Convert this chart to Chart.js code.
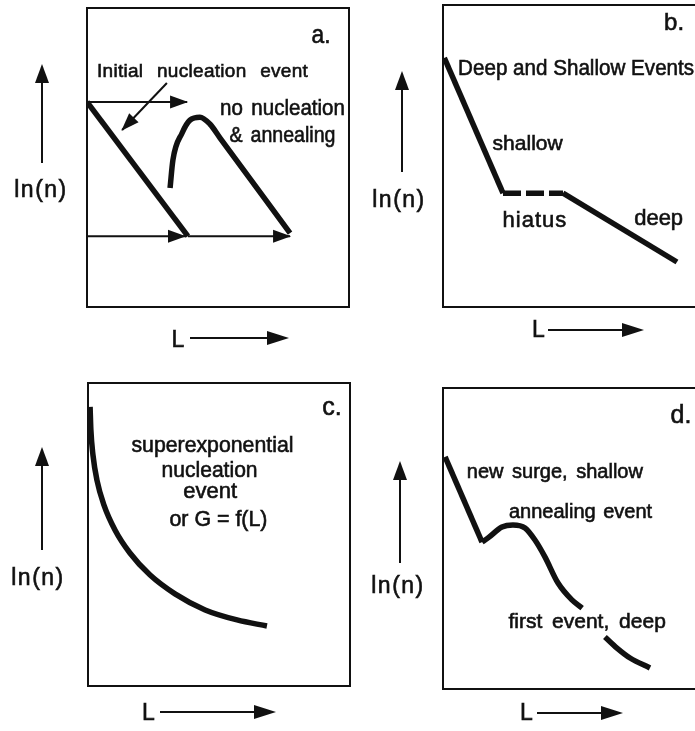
<!DOCTYPE html>
<html>
<head>
<meta charset="utf-8">
<title>CSD sketches</title>
<script src="https://cdn.jsdelivr.net/npm/chart.js@4.4.1/dist/chart.umd.min.js"></script>
<style>
  html, body { margin: 0; padding: 0; background: #fff; }
  body { width: 695px; height: 731px; overflow: hidden; position: relative; }
  canvas { position: absolute; }
</style>
</head>
<body>
<canvas id="panel-a" width="360" height="365" style="left:0;top:0"></canvas>
<canvas id="panel-b" width="360" height="365" style="left:350px;top:0"></canvas>
<canvas id="panel-c" width="360" height="366" style="left:0;top:365px"></canvas>
<canvas id="panel-d" width="360" height="366" style="left:350px;top:365px"></canvas>
<script>
// all panels: L on x (0..10), ln(n) on y (0..10)

// a. initial nucleation line and its annealed copy
const aInitial = [[0, 6.86], [3.85, 2.37]];
const aAnnealed = [[3.17, 3.98], [3.28, 4.92], [3.63, 5.82], [3.93, 6.25], [4.31, 6.35], [4.69, 6.12], [5.08, 5.65], [7.75, 2.47]];
const aShiftTop = [[0, 6.86], [3.82, 6.86]];
const aShiftLow = [[0, 2.37], [3.74, 2.37]];
const aShiftLow2 = [[3.85, 2.37], [7.75, 2.37]];
const aPointer = [[3.05, 7.49], [1.34, 5.92]];
const aNotes = [['a.', 8.93, 8.83], ['Initial nucleation event', 4.41, 7.69], ['no nucleation', 7.46, 6.42], ['& annealing', 7.46, 5.52]];

// b. shallow slope, hiatus, deep slope
const bEvents = [[0.05, 8.25], [2.29, 3.77], [4.58, 3.77], [8.93, 1.49]];
const bNotes = [['b.', 8.82, 9.17], ['Deep and Shallow Events', 5.08, 7.68], ['shallow', 3.23, 5.20], ['hiatus', 3.51, 2.65], ['deep', 8.23, 2.72]];

// c. superexponential curve
const cCurve = [[0.08, 9.21], [0.11, 8.45], [0.19, 7.62], [0.34, 6.80], [0.61, 5.97], [1.03, 5.15], [1.60, 4.39], [2.37, 3.66], [3.32, 3.04], [4.47, 2.51], [5.69, 2.18], [6.83, 1.98]];
const cNotes = [['c.', 9.31, 8.94], ['superexponential', 4.75, 7.72], ['nucleation', 4.64, 6.90], ['event', 4.66, 6.20], ['or G = f(L)', 4.98, 5.28]];

// d. new surge over an annealed first event
const dSurge = [[0.08, 7.71], [1.49, 4.88]];
const dAnneal = [[1.49, 4.88], [1.72, 5.02], [2.25, 5.38], [2.67, 5.45], [3.13, 5.35], [3.51, 4.95], [3.89, 4.39], [4.39, 3.52], [4.92, 2.96], [5.31, 2.69]];
const dDeep = [[6.18, 1.73], [6.64, 1.36], [7.14, 1.03], [7.90, 0.70]];
const dNotes = [['d.', 9.08, 8.84], ['new surge, shallow', 4.27, 7.01], ['annealing event', 5.25, 5.68], ['first event, deep', 5.50, 2.03]];

const INK = '#111';
const FONT = '"Liberation Sans", Arial, Helvetica, sans-serif';

function pts(arr) { return arr.map(([x, y]) => ({ x, y })); }

function thick(arr, extra) {
    return Object.assign({ data: pts(arr), showLine: true, pointRadius: 0, borderColor: INK, borderWidth: 5.5,
        borderCapStyle: 'butt', borderJoinStyle: 'round', cubicInterpolationMode: 'monotone' }, extra || {});
}
function thin(arr, head) {
    return { data: pts(arr), showLine: true, pointRadius: 0, borderColor: INK, borderWidth: 2, head: head };
}

function arrowHead(ctx, x0, y0, x1, y1, len, half) {
    const a = Math.atan2(y1 - y0, x1 - x0);
    const c = Math.cos(a), s = Math.sin(a);
    ctx.beginPath();
    ctx.moveTo(x1 + c, y1 + s);
    ctx.lineTo(x1 - c * len - s * half, y1 - s * len + c * half);
    ctx.lineTo(x1 - c * len + s * half, y1 - s * len - c * half);
    ctx.closePath();
    ctx.fill();
}

// filled text with a hairline stroke so it reads as heavy as the print
function inkText(ctx, text, x, y, w) {
    ctx.fillText(text, x, y, w);
    ctx.strokeText(text, x, y, w);
}

const sketchDecor = {
    id: 'sketchDecor',
    afterDatasetsDraw(chart, args, opts) {
        const { ctx, chartArea: area, scales } = chart;
        ctx.save();
        ctx.strokeStyle = INK;
        ctx.fillStyle = INK;
        ctx.lineWidth = 2;
        ctx.strokeRect(area.left, area.top, area.right - area.left, area.bottom - area.top);

        chart.data.datasets.forEach((ds, i) => {
            if (!ds.head) return;
            const el = chart.getDatasetMeta(i).data;
            const p = el[el.length - 2], q = el[el.length - 1];
            arrowHead(ctx, p.x, p.y, q.x, q.y, ds.head[0], ds.head[1]);
        });

        // axis cues: ln(n) with an up arrow, L with a right arrow
        const ax = opts.axes;
        const ux = area.left + ax.up[0];
        ctx.beginPath();
        ctx.moveTo(ux, area.top + ax.up[2]);
        ctx.lineTo(ux, area.top + ax.up[1] + 6);
        ctx.stroke();
        arrowHead(ctx, ux, area.top + ax.up[2], ux, area.top + ax.up[1], 18, 7);

        const ry = area.bottom + ax.right[2];
        ctx.beginPath();
        ctx.moveTo(area.left + ax.right[0], ry);
        ctx.lineTo(area.left + ax.right[1] - 6, ry);
        ctx.stroke();
        arrowHead(ctx, area.left + ax.right[0], ry, area.left + ax.right[1], ry, 21, 7);

        ctx.textBaseline = 'alphabetic';
        ctx.textAlign = 'center';
        ctx.lineWidth = 0.6;
        opts.notes.forEach(([text, vx, vy], i) => {
            const st = opts.noteStyle[i];
            ctx.font = st.size + 'px ' + FONT;
            ctx.letterSpacing = (st.ls || 0) + 'px';
            ctx.wordSpacing = (st.ws || 0) + 'px';
            inkText(ctx, text, scales.x.getPixelForValue(vx), scales.y.getPixelForValue(vy), st.w);
        });

        ctx.letterSpacing = '1.5px';
        ctx.wordSpacing = '0px';
        ctx.font = '23px ' + FONT;
        inkText(ctx, 'ln(n)', area.left + ax.yLabel[0], area.top + ax.yLabel[1]);
        ctx.letterSpacing = '0px';
        inkText(ctx, 'L', area.left + ax.xLabel[0], area.bottom + ax.xLabel[1]);
        ctx.restore();
    }
};

function makePanel(id, padding, datasets, notes, noteStyle, axes) {
    return new Chart(document.getElementById(id), {
        type: 'scatter',
        data: { datasets },
        options: {
            responsive: false,
            animation: false,
            events: [],
            layout: { padding },
            scales: {
                x: { type: 'linear', min: 0, max: 10, display: false },
                y: { type: 'linear', min: 0, max: 10, display: false }
            },
            plugins: {
                legend: { display: false },
                tooltip: { enabled: false },
                sketchDecor: { notes, noteStyle, axes }
            }
        },
        plugins: [sketchDecor]
    });
}

makePanel('panel-a', { left: 87, top: 8, right: 11, bottom: 58 }, [
    thin(aShiftTop, [17, 6.5]),
    thin(aShiftLow, [17, 6.5]),
    thin(aShiftLow2, [17, 6.5]),
    thin(aPointer, [17, 6.5]),
    thick(aInitial),
    thick(aAnnealed)
], aNotes, [
    { size: 25, w: 19 },
    { size: 19, w: 212, ws: 8, ls: 0.3 },
    { size: 22, w: 125, ws: 3 },
    { size: 22, w: 106, ws: 3 }
], { up: [-45, 57, 155], right: [103, 201, 31], yLabel: [-46, 189], xLabel: [91, 40] });

makePanel('panel-b', { left: 93, top: 5, right: 5, bottom: 58 }, [
    thick(bEvents, {
        cubicInterpolationMode: 'default', tension: 0,
        segment: { borderDash: c => c.p0DataIndex === 1 ? [18, 5] : undefined }
    })
], bNotes, [
    { size: 24 },
    { size: 22, w: 236 },
    { size: 21, w: 72 },
    { size: 22, w: 65, ls: 1 },
    { size: 22, w: 54 }
], { up: [-41, 67, 167], right: [105, 200, 23], yLabel: [-44, 202], xLabel: [95.5, 30] });

makePanel('panel-c', { left: 88, top: 18, right: 10, bottom: 45 }, [
    thick(cCurve)
], cNotes, [
    { size: 25 },
    { size: 22, w: 162 },
    { size: 22, w: 96 },
    { size: 22, w: 57 },
    { size: 22, w: 98 }
], { up: [-46, 65, 167], right: [72, 187, 26], yLabel: [-50, 202], xLabel: [60.5, 34] });

makePanel('panel-d', { left: 93, top: 23, right: 5, bottom: 42 }, [
    thick(dSurge, { cubicInterpolationMode: 'default', tension: 0 }),
    thick(dAnneal),
    thick(dDeep)
], dNotes, [
    { size: 25 },
    { size: 20, w: 178, ws: 3 },
    { size: 20, w: 145, ws: 2 },
    { size: 21, w: 161, ws: 4 }
], { up: [-43, 74, 175], right: [94, 179, 24], yLabel: [-45, 205], xLabel: [83.5, 31] });
</script>
</body>
</html>
